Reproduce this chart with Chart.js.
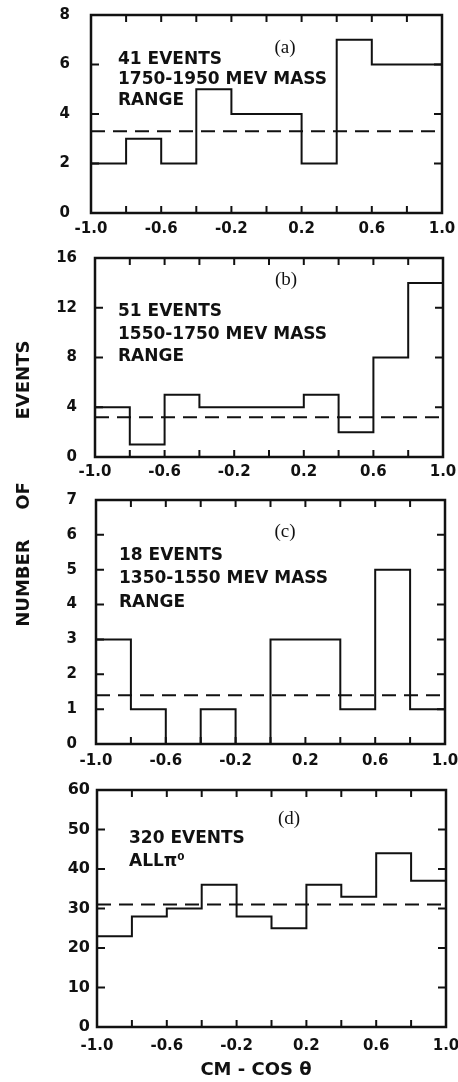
<!DOCTYPE html>
<html>
<head>
<meta charset="utf-8">
<script src="https://cdn.jsdelivr.net/npm/chart.js@4.4.1/dist/chart.umd.min.js"></script>
<style>
  body { margin: 0; background: #fff; }
  #wrap { position: relative; width: 458px; height: 1082px; overflow: hidden; }
  #wrap canvas { position: absolute; left: 0; }
  .ytitle {
    position: absolute; font: bold 18px "DejaVu Sans", sans-serif; color: #111;
    transform: translate(-50%, -50%) rotate(-90deg); white-space: nowrap; left: 22px;
  }
</style>
</head>
<body>
<div id="wrap">
  <canvas id="panelA"></canvas>
  <canvas id="panelB"></canvas>
  <canvas id="panelC"></canvas>
  <canvas id="panelD"></canvas>
  <div class="ytitle" style="top:583px">NUMBER</div>
  <div class="ytitle" style="top:496px">OF</div>
  <div class="ytitle" style="top:380px">EVENTS</div>
</div>
<script>
// ====================== data ======================
const binEdges = [-1.0, -0.8, -0.6, -0.4, -0.2, 0.0, 0.2, 0.4, 0.6, 0.8, 1.0];

const countsA = [2, 3, 2, 5, 4, 4, 2, 7, 6, 6];      // 41 events, 1750-1950
const countsB = [4, 1, 5, 4, 4, 4, 5, 2, 8, 14];     // 51 events, 1550-1750
const countsC = [3, 1, 0, 1, 0, 3, 3, 1, 5, 1];      // 18 events, 1350-1550
const countsD = [23, 28, 30, 36, 28, 25, 36, 33, 44, 37]; // 320 events, all pi0

const meanLevels = [3.3, 3.2, 1.4, 31];
const yMaxes = [8, 16, 7, 60];
const ySteps = [2, 4, 1, 10];

const panelTags = ['(a)', '(b)', '(c)', '(d)'];
const panelNotes = [
  ['41 EVENTS', '1750-1950 MEV MASS', 'RANGE'],
  ['51 EVENTS', '1550-1750 MEV MASS', 'RANGE'],
  ['18 EVENTS', '1350-1550 MEV MASS', 'RANGE'],
  ['320 EVENTS', 'ALLπ⁰']
];
const xTitle = 'CM - COS θ';

// ====================== layout ======================
// canvas top/height on page, plot box inside canvas
const layouts = [
  { id: 'panelA', top: 0,   h: 240, box: { l: 91, r: 442, t: 15, b: 213 }, pad: 21, xPad: 7, fs: 15, xfs: 15,
    notes: { x: 118, y: [60, 80, 101] }, tag: { x: 285, y: 48 } },
  { id: 'panelB', top: 240, h: 245, box: { l: 95, r: 443, t: 18, b: 217 }, pad: 18, xPad: 6, fs: 15, xfs: 15,
    notes: { x: 118, y: [72, 95, 117] }, tag: { x: 286, y: 40 } },
  { id: 'panelC', top: 485, h: 290, box: { l: 96, r: 445, t: 15, b: 259 }, pad: 19, xPad: 8, fs: 15, xfs: 15,
    notes: { x: 119, y: [71, 94, 118] }, tag: { x: 285, y: 47 } },
  { id: 'panelD', top: 775, h: 307, box: { l: 97, r: 446, t: 15, b: 252 }, pad: 7, xPad: 10, fs: 16, xfs: 15,
    notes: { x: 129, y: [64, 87] }, tag: { x: 289, y: 44 }, title: { x: 256, y: 295 } }
];

const INK = '#111';

function histPoints(counts) {
  return binEdges.map((e, i) => ({ x: e, y: counts[Math.min(i, counts.length - 1)] }));
}

// frame, inward ticks and the texts
const frameTicks = {
  id: 'frameTicks',
  afterDraw(chart, args, opts) {
    const { ctx, chartArea: a } = chart;
    const xs = chart.scales.x, ys = chart.scales.y;
    const L = opts.layout;
    ctx.save();
    ctx.strokeStyle = INK;
    ctx.lineWidth = 2.5;
    ctx.strokeRect(a.left, a.top, a.right - a.left, a.bottom - a.top);
    ctx.lineWidth = 2;
    ctx.beginPath();
    xs.ticks.forEach(t => {
      const px = xs.getPixelForValue(t.value);
      if (px <= a.left + 2 || px >= a.right - 2) return;
      ctx.moveTo(px, a.bottom); ctx.lineTo(px, a.bottom - 7);
      ctx.moveTo(px, a.top); ctx.lineTo(px, a.top + 7);
    });
    ys.ticks.forEach(t => {
      const py = ys.getPixelForValue(t.value);
      if (py <= a.top + 2 || py >= a.bottom - 2) return;
      ctx.moveTo(a.left, py); ctx.lineTo(a.left + 8, py);
      ctx.moveTo(a.right, py); ctx.lineTo(a.right - 8, py);
    });
    ctx.stroke();

    ctx.fillStyle = INK;
    ctx.textBaseline = 'middle';
    ctx.textAlign = 'left';
    ctx.font = 'bold 17px "DejaVu Sans", sans-serif';
    opts.notes.forEach((line, i) => ctx.fillText(line, L.notes.x, L.notes.y[i]));
    ctx.textAlign = 'center';
    ctx.font = '19px "Liberation Serif", serif';
    ctx.fillText(opts.tag, L.tag.x, L.tag.y);
    if (L.title) {
      ctx.font = 'bold 18px "DejaVu Sans", sans-serif';
      ctx.fillText(xTitle, L.title.x, L.title.y);
    }
    ctx.restore();
  }
};

function renderPanel(k, counts) {
  const L = layouts[k];
  const canvas = document.getElementById(L.id);
  canvas.width = 458; canvas.height = L.h;
  canvas.style.top = L.top + 'px';
  const yFont = { family: '"DejaVu Sans", sans-serif', weight: 'bold', size: L.fs };
  const xFont = { family: '"DejaVu Sans", sans-serif', weight: 'bold', size: L.xfs };

  new Chart(canvas.getContext('2d'), {
    type: 'line',
    data: {
      datasets: [
        {
          data: histPoints(counts),
          stepped: 'before',
          borderColor: INK, borderWidth: 2, pointRadius: 0, fill: false
        },
        {
          data: [{ x: -1, y: meanLevels[k] }, { x: 1, y: meanLevels[k] }],
          borderColor: INK, borderWidth: 2, borderDash: [14, 8], pointRadius: 0, fill: false
        }
      ]
    },
    options: {
      responsive: false,
      animation: false,
      layout: { padding: { left: 0, right: 458 - L.box.r, top: L.box.t, bottom: 0 } },
      plugins: {
        legend: { display: false },
        tooltip: { enabled: false },
        frameTicks: { layout: L, notes: panelNotes[k], tag: panelTags[k] }
      },
      scales: {
        x: {
          type: 'linear', min: -1, max: 1,
          grid: { display: false, drawTicks: false }, border: { display: false },
          ticks: {
            stepSize: 0.2, autoSkip: false, maxRotation: 0, padding: L.xPad,
            color: INK, font: xFont,
            callback: (v, i) => (i % 2 === 0 ? Number(v).toFixed(1) : '')
          },
          afterFit: s => {
            s.height = L.h - L.box.b;
            s.paddingLeft = 0; s.paddingRight = 0;
          }
        },
        y: {
          min: 0, max: yMaxes[k],
          grid: { display: false, drawTicks: false }, border: { display: false },
          ticks: { stepSize: ySteps[k], padding: L.pad, color: INK, font: yFont },
          afterFit: s => {
            s.width = L.box.l;
            s.paddingTop = 0; s.paddingBottom = 0;
          }
        }
      }
    },
    plugins: [frameTicks]
  });
}

document.addEventListener('DOMContentLoaded', () => {
  renderPanel(0, countsA);
  renderPanel(1, countsB);
  renderPanel(2, countsC);
  renderPanel(3, countsD);
});
</script>
</body>
</html>
